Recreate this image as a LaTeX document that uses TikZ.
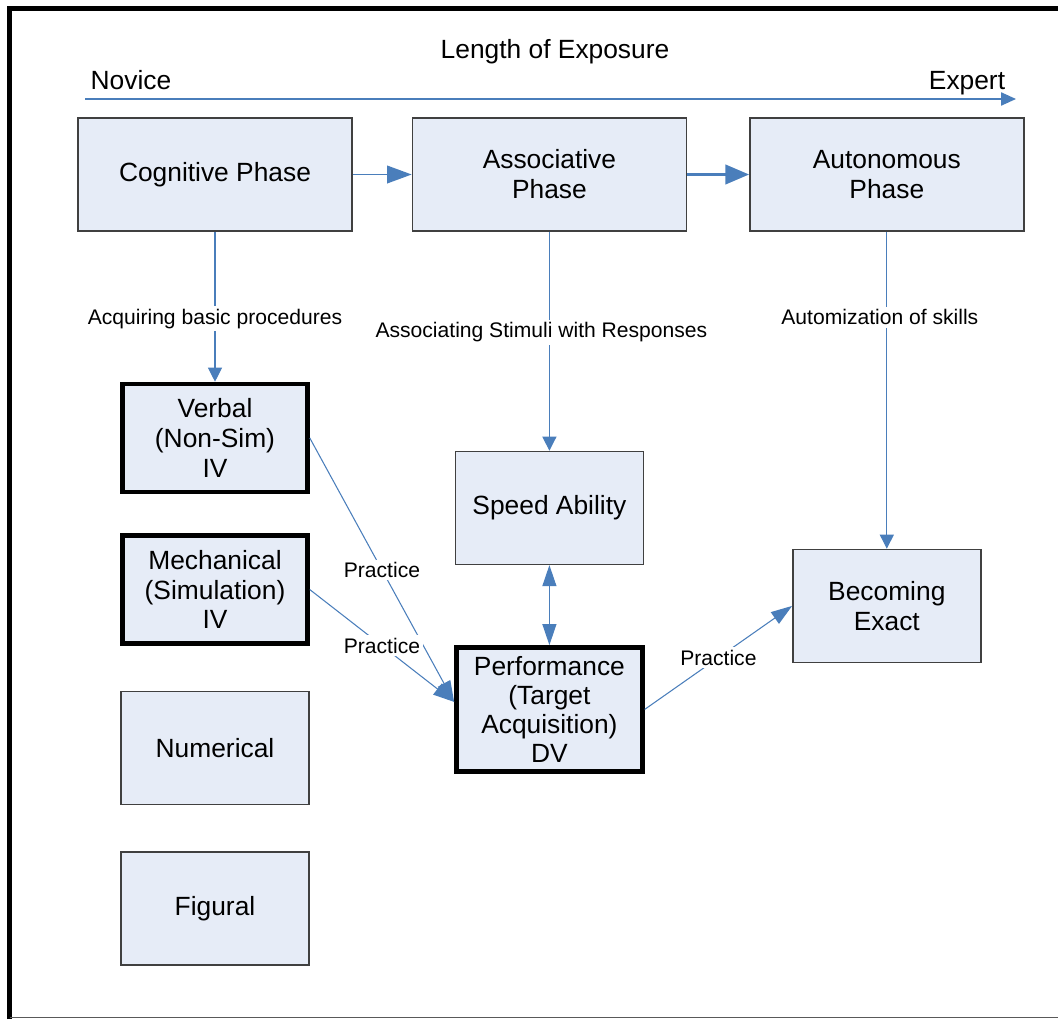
\documentclass[tikz,border=0pt]{standalone}
\usepackage{fontspec}
\setmainfont{Liberation Sans}
\usetikzlibrary{positioning,arrows.meta}
\definecolor{boxfill}{HTML}{E6ECF7}
\definecolor{linkblue}{HTML}{4A7EBB}

\begin{document}
\begin{tikzpicture}
  [boxN/.style={rectangle,draw=black!75,line width=0.8pt,fill=boxfill,
     align=center,inner sep=0pt,font=\fontsize{15}{17}\selectfont},
   wideN/.style={boxN,minimum width=5.48cm,minimum height=2.26cm},
   smallN/.style={boxN,minimum width=3.76cm,minimum height=2.26cm},
   boldN/.style={boxN,draw=black,line width=2.6pt,
     minimum width=3.7cm,minimum height=2.16cm},
   headN/.style={font=\fontsize{15}{17}\selectfont,inner sep=0pt},
   inflow/.style={draw=linkblue,line width=0.6pt,{Triangle[length=8pt,width=8pt]}-},
   outflow/.style={draw=linkblue,line width=0.6pt,-{Triangle[length=12pt,width=8pt]}},
   lbl/.style={fill=white,inner sep=1.5pt,font=\fontsize{12}{14}\selectfont}]

  \useasboundingbox (0,0) rectangle (21.16,-20.38);

  % frame
  \draw[line width=2.8pt] (0.19,-20.38) -- (0.19,-0.17) -- (21.16,-0.17);
  \draw[black!65,line width=0.6pt] (0.19,-20.35) -- (21.16,-20.35);

  % exposure axis
  \node[headN,anchor=base] (title) at (11.1,-1.18) {Length of Exposure};
  \coordinate (nov) at (1.7,-1.98);
  \coordinate (expt) at (20.32,-1.98);
  \draw[draw=linkblue,line width=0.9pt,-{Triangle[length=8.5pt,width=7.5pt]}] (nov) -- (expt);
  \node[headN,anchor=base] (novice) at (2.62,-1.8) {Novice};
  \node[headN,anchor=base] (expert) at (19.34,-1.8) {Expert};

  % phases
  \node[wideN] (cog) at (4.3,-3.49) {Cognitive Phase};

  \node[wideN] (assoc) [right=1.18cm of cog] {Associative\\Phase}
    edge [inflow,line width=1.1pt,{Triangle[length=14pt,width=10pt]}-] (cog);

  \node[wideN] (auton) [right=1.24cm of assoc] {Autonomous\\Phase}
    edge [inflow,line width=1.7pt,{Triangle[length=13.5pt,width=11pt]}-] (assoc);

  % variables
  \node[boldN] (verbal) [below=3.0cm of cog] {Verbal\\(Non-Sim)\\IV}
    edge [inflow] node[lbl,pos=0.42] {Acquiring basic procedures} (cog);

  \node[boldN] (mech) [below=0.78cm of verbal] {Mechanical\\(Simulation)\\IV};

  \node[smallN] (numer) [below=0.9cm of mech] {Numerical};

  \node[smallN] (fig) [below=0.92cm of numer] {Figural};

  \node[smallN] (speed) [below=4.38cm of assoc] {Speed Ability}
    edge [inflow] node[lbl,pos=0.54,xshift=-0.16cm] {Associating Stimuli with Responses} (assoc);

  \node[boldN,minimum width=3.72cm,minimum height=2.48cm,
    font=\fontsize{15}{16.5}\selectfont] (perf)
    [below=1.6cm of speed] {Performance\\(Target\\Acquisition)\\DV}
    edge [inflow,{Triangle[length=12pt,width=8pt]}-{Triangle[length=12pt,width=8pt]}] (speed);

  \node[smallN] (exact) [below=6.34cm of auton] {Becoming\\Exact}
    edge [inflow] node[lbl,pos=0.73,xshift=-0.14cm] {Automization of skills} (auton);

  % practice links
  \draw[outflow] (verbal.east) -- node[lbl] {Practice} ([yshift=0.15cm]perf.west);
  \draw[outflow] (mech.east) -- node[lbl] {Practice} ([yshift=0.15cm]perf.west);
  \draw[outflow] (perf.east) -- node[lbl] {Practice} (exact.west);

\end{tikzpicture}
\end{document}
